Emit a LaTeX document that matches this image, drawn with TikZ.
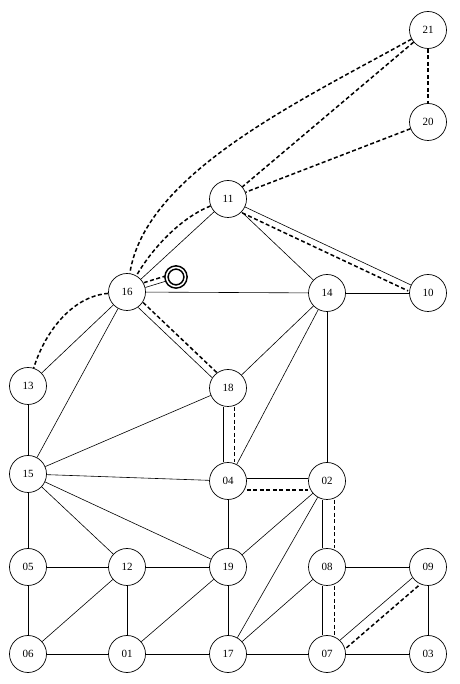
\documentclass[tikz,border=0pt]{standalone}
\usepackage{fontspec}
\setmainfont{Liberation Serif}
\begin{document}
\begin{tikzpicture}[x=1pt,y=1pt,
  vtx/.style={circle,draw,line width=0.7pt,minimum size=37pt,inner sep=0pt,font=\fontsize{11}{12}\selectfont,fill=white},
  edge/.style={line width=0.6pt},
  dsh/.style={line width=1.5pt,dash pattern=on 4pt off 2.5pt}]
\useasboundingbox (0,0) rectangle (459,684);
% nodes
\node[vtx] (n21) at (428,654) {21};
\node[vtx] (n20) at (428,562) {20};
\node[vtx] (n11) at (228,485) {11};
\node[vtx] (n16) at (127,392) {16};
\node[vtx] (n14) at (327,391) {14};
\node[vtx] (n10) at (428,391) {10};
\node[vtx] (n13) at (28,298) {13};
\node[vtx] (n18) at (228,296) {18};
\node[vtx] (n15) at (28,210) {15};
\node[vtx] (n04) at (228,203) {04};
\node[vtx] (n02) at (327,203) {02};
\node[vtx] (n05) at (28,117) {05};
\node[vtx] (n12) at (127,117) {12};
\node[vtx] (n19) at (228,117) {19};
\node[vtx] (n08) at (327,117) {08};
\node[vtx] (n09) at (428,117) {09};
\node[vtx] (n06) at (28,30) {06};
\node[vtx] (n01) at (127,30) {01};
\node[vtx] (n17) at (228,30) {17};
\node[vtx] (n07) at (327,30) {07};
\node[vtx] (n03) at (428,30) {03};
\node[circle,draw,line width=1.6pt,double,double distance=1.5pt,minimum size=19pt,inner sep=0pt] (sc) at (176,407) {};
% solid edges
\foreach \a/\b in {11/16,11/14,16/14,14/10,16/13,16/15,14/18,14/04,14/02,13/15,15/18,15/04,15/19,15/12,15/05,04/19,02/19,02/17,05/12,05/06,12/19,12/06,12/01,19/01,19/17,08/09,08/17,09/03,06/01,01/17,17/07,07/03}
  \draw[edge] (n\a) -- (n\b);
% doubled edges
\draw[edge] (n11) -- (n10);
\draw[dsh,transform canvas={xshift=-2.8pt,yshift=-5.9pt}] (n11) -- (n10);
\draw[edge,transform canvas={xshift=-2.4pt,yshift=-2.5pt}] (n16) -- (n18);
\draw[dsh,transform canvas={xshift=2.4pt,yshift=2.5pt}] (n16) -- (n18);
\draw[edge,transform canvas={xshift=-5pt}] (n18) -- (n04);
\draw[dsh,transform canvas={xshift=6.5pt}] (n18) -- (n04);
\draw[edge,transform canvas={yshift=3pt}] (n04) -- (n02);
\draw[dsh,transform canvas={yshift=-9pt}] (n04) -- (n02);
\draw[edge,transform canvas={xshift=-4.5pt}] (n02) -- (n08);
\draw[dsh,transform canvas={xshift=7.5pt}] (n02) -- (n08);
\draw[edge,transform canvas={xshift=-4.5pt}] (n08) -- (n07);
\draw[dsh,transform canvas={xshift=7.5pt}] (n08) -- (n07);
\draw[edge,transform canvas={xshift=-1.3pt,yshift=1.5pt}] (n07) -- (n09);
\draw[dsh,transform canvas={xshift=5.2pt,yshift=-6.1pt}] (n07) -- (n09);
\draw[edge,transform canvas={xshift=0.3pt,yshift=-1pt}] (n16) -- (sc);
\draw[dsh,transform canvas={xshift=-1.2pt,yshift=3.8pt}] (n16) -- (sc);
% dashed connectors
\draw[dsh] (n21) -- (n20);
\draw[dsh] (n21) -- (n11);
\draw[dsh] (n20) -- (n11);
\draw[dsh] (n21) .. controls (298,582) and (145,510) .. (n16);
\draw[dsh] (n11) .. controls (178,465) and (150,432) .. (n16);
\draw[dsh] (n16) .. controls (74,388) and (46,355) .. (n13);
\end{tikzpicture}
\end{document}
